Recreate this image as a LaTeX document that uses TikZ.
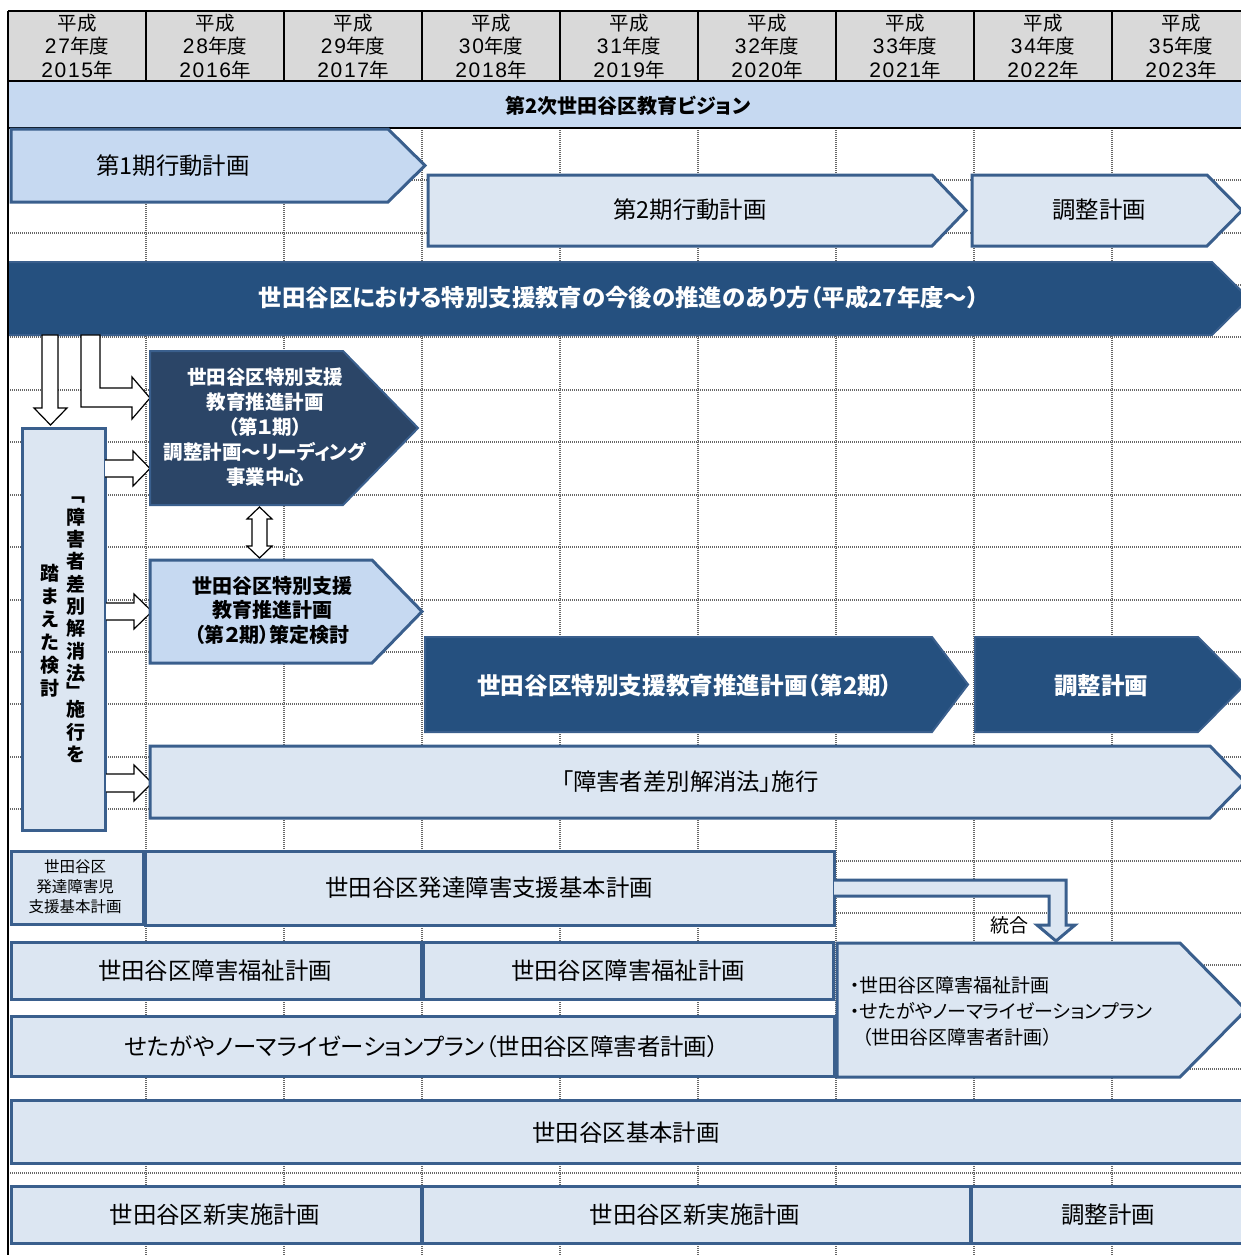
\documentclass[tikz,border=0pt]{standalone}
\usepackage{fontspec}
\setmainfont{Noto Sans CJK JP}[RawFeature=+palt]
\newfontfamily\digf{Liberation Sans}[LetterSpace=8]
\definecolor{hdr}{HTML}{D9D9D9}
\definecolor{vis}{HTML}{C6D9F1}
\definecolor{lfill}{HTML}{DCE6F2}
\definecolor{mfill}{HTML}{C6D9F1}
\definecolor{bord}{HTML}{3A5F8D}
\definecolor{dkA}{HTML}{2B4567}
\definecolor{dkB}{HTML}{25507F}
\newcommand{\hd}[1]{{\digf\fontsize{21}{23.5}\selectfont #1}}
\tikzset{
  gridline/.style={draw=black!60, line width=1.1pt, dash pattern=on 1pt off 1pt},
  hline/.style={draw=black, line width=2pt},
  lshape/.style={draw=bord, line width=3pt, fill=lfill, line join=miter},
  mshape/.style={draw=bord, line width=3pt, fill=mfill, line join=miter},
  dshapeA/.style={draw=bord, line width=2pt, fill=dkA, line join=miter},
  dshapeB/.style={draw=bord, line width=2pt, fill=dkB, line join=miter},
  warrow/.style={draw=black, line width=1.2pt, fill=white, line join=miter},
  txt/.style={inner sep=0pt, font=\fontsize{23.4}{28}\selectfont},
  wbold/.style={inner sep=0pt, text=white, font=\bfseries\fontsize{23.4}{27}\selectfont},
  hdrtxt/.style={inner sep=0pt, align=center, font=\fontsize{19.5}{23.5}\selectfont},
}
\begin{document}
\begin{tikzpicture}[x=1pt,y=-1pt]
\useasboundingbox (0,0) rectangle (1241,1255);
\clip (0,0) rectangle (1241,1255);
% header
\fill[hdr] (8,11) rectangle (1245,81);
\fill[vis] (8,81) rectangle (1245,128);
% grid
\foreach \yy in {180,233,285,337,390,442,495,547,600,652,704,757,809,861,913,965,1017,1069,1121,1173,1225}
  \draw[gridline] (8,\yy) -- (1245,\yy);
\foreach \xx in {146,284,422,560,698,836,974,1112}
  \draw[gridline] (\xx,128) -- (\xx,1255);
\draw[hline] (8,11) -- (1245,11);
\draw[hline] (8,81) -- (1245,81);
\draw[hline] (8,128) -- (1245,128);
\foreach \xx in {146,284,422,560,698,836,974,1112}
  \draw[hline] (\xx,11) -- (\xx,81);
\foreach \k/\a/\b in {0/27/2015,1/28/2016,2/29/2017,3/30/2018,4/31/2019,5/32/2020,6/33/2021,7/34/2022,8/35/2023}
  \node[hdrtxt] (h\k) at (77+138*\k,46.5) {平成\\\hd{\a}年度\\\hd{\b}年};
\node[inner sep=0pt, font=\bfseries\fontsize{20}{24}\selectfont] (vision) at (628,106) {第2次世田谷区教育ビジョン};

% action plans
\draw[mshape] (11,129) -- (388,129) -- (425,165.5) -- (388,202) -- (11,202) -- cycle;
\node[txt] (ap1) at (173,166) {第1期行動計画};
\draw[lshape] (428,175) -- (932,175) -- (966,210.5) -- (932,246) -- (428,246) -- cycle;
\node[txt] (ap2) at (690,210) {第2期行動計画};
\draw[lshape] (972,175) -- (1207,175) -- (1242,210.5) -- (1207,246) -- (972,246) -- cycle;
\node[txt] (ap3) at (1099,210) {調整計画};

% big band
\draw[dshapeB] (8,262) -- (1212,262) -- (1249,298.5) -- (1212,335) -- (8,335) -- cycle;
\node[wbold] (band) at (619,298) {世田谷区における特別支援教育の今後の推進のあり方（平成27年度～）};

% white arrows from band
\draw[warrow] (42,335) -- (58,335) -- (58,408) -- (67,408) -- (50.5,425) -- (34,408) -- (42,408) -- cycle;
\draw[warrow] (81,335) -- (100,335) -- (100,388) -- (132,388) -- (132,377) -- (150,398) -- (132,419) -- (132,407) -- (81,407) -- cycle;

% vertical box
\draw[lshape] (22,428) rectangle (105,830);
\node[inner sep=0pt, align=center, font=\bfseries\fontsize{19}{22.3}\selectfont] (vr) at (76,630)
  {﹁\\障\\害\\者\\差\\別\\解\\消\\法\\[-4pt]﹂\\[-4pt]施\\行\\を};
\node[inner sep=0pt, align=center, font=\bfseries\fontsize{19}{23}\selectfont] (vl) at (50,631)
  {踏\\ま\\え\\た\\検\\討};

% arrows from vertical box
\draw[warrow] (105,460) -- (133,460) -- (133,451) -- (150,468.5) -- (133,486) -- (133,477) -- (105,477);
\draw[warrow] (106,603) -- (134,603) -- (134,594) -- (152,611.5) -- (134,629) -- (134,620) -- (106,620);
\draw[warrow] (106,774) -- (134,774) -- (134,765) -- (152,783) -- (134,801) -- (134,792) -- (106,792);

% dark pentagon phase 1
\draw[dshapeA] (150,351) -- (343,351) -- (418,428) -- (343,505) -- (150,505) -- cycle;
\node[wbold, align=center, font=\bfseries\fontsize{19.5}{25}\selectfont] (p1) at (265,427)
  {世田谷区特別支援\\教育推進計画\\（第１期）\\調整計画～リーディング\\事業中心};

% double arrow
\draw[warrow] (259.5,507) -- (272,519) -- (267,519) -- (267,546) -- (272,546) -- (259.5,558)
  -- (247,546) -- (252,546) -- (252,519) -- (247,519) -- cycle;

% light pentagon phase 2 study
\draw[mshape] (150,560) -- (372,560) -- (422,611.5) -- (372,663) -- (150,663) -- cycle;
\node[inner sep=0pt, align=center, font=\bfseries\fontsize{20}{24.5}\selectfont] (p2s) at (272,610)
  {世田谷区特別支援\\教育推進計画\\（第２期）策定検討};

% dark pentagons phase 2
\draw[dshapeB] (425,637) -- (932,637) -- (968,684.5) -- (932,732) -- (425,732) -- cycle;
\node[wbold, font=\bfseries\fontsize{23.6}{27}\selectfont] (p2) at (685,685) {世田谷区特別支援教育推進計画（第2期）};
\draw[dshapeB] (975,637) -- (1198,637) -- (1245,684.5) -- (1198,732) -- (975,732) -- cycle;
\node[wbold, font=\bfseries\fontsize{23.5}{27}\selectfont] (p2c) at (1101,686) {調整計画};

% law
\draw[lshape] (150,746) -- (1210,746) -- (1245,782) -- (1210,818) -- (150,818) -- cycle;
\node[txt] (law) at (690,782) {「障害者差別解消法」施行};

% developmental disability plans
\draw[lshape] (11,851) rectangle (143,924);
\node[inner sep=0pt, align=center, font=\fontsize{15.5}{20}\selectfont] (dd1) at (75,887) {世田谷区\\発達障害児\\支援基本計画};
\draw[lshape] (145,851) rectangle (834,925);
\node[txt] (dd2) at (489,888) {世田谷区発達障害支援基本計画};

% integration arrow
\draw[lshape] (834,880) -- (1066,880) -- (1066,925) -- (1075,925) -- (1056,941) -- (1037,925) -- (1049,925) -- (1049,896) -- (834,896);
\node[inner sep=0pt, font=\fontsize{19}{23}\selectfont] (merge) at (1009,925) {統合};

% welfare plans
\draw[lshape] (11,942) rectangle (421,999);
\node[txt] (wf1) at (215,971) {世田谷区障害福祉計画};
\draw[lshape] (423,942) rectangle (833,999);
\node[txt] (wf2) at (628,971) {世田谷区障害福祉計画};
\draw[lshape] (11,1016) rectangle (834,1076);
\node[txt] (np) at (422,1047) {せたがやノーマライゼーションプラン（世田谷区障害者計画）};
\draw[lshape] (837,943) -- (1180,943) -- (1246,1010) -- (1180,1077) -- (837,1077) -- cycle;
\node[inner sep=0pt, anchor=west, align=left, font=\fontsize{19}{26}\selectfont] (wfn) at (850,1011)
  {・世田谷区障害福祉計画\\・せたがやノーマライゼーションプラン\\\hspace*{12pt}（世田谷区障害者計画）};

% basic plan
\draw[lshape] (11,1100) rectangle (1250,1163);
\node[txt] (bp) at (626,1133) {世田谷区基本計画};
\draw[lshape] (11,1186) rectangle (421,1243);
\node[txt] (ip1) at (215,1215) {世田谷区新実施計画};
\draw[lshape] (422,1186) rectangle (970,1243);
\node[txt] (ip2) at (695,1215) {世田谷区新実施計画};
\draw[lshape] (971,1186) rectangle (1250,1243);
\node[txt] (ip3) at (1108,1215) {調整計画};

% left border
\draw[hline] (8,11) -- (8,1255);
\end{tikzpicture}
\end{document}
